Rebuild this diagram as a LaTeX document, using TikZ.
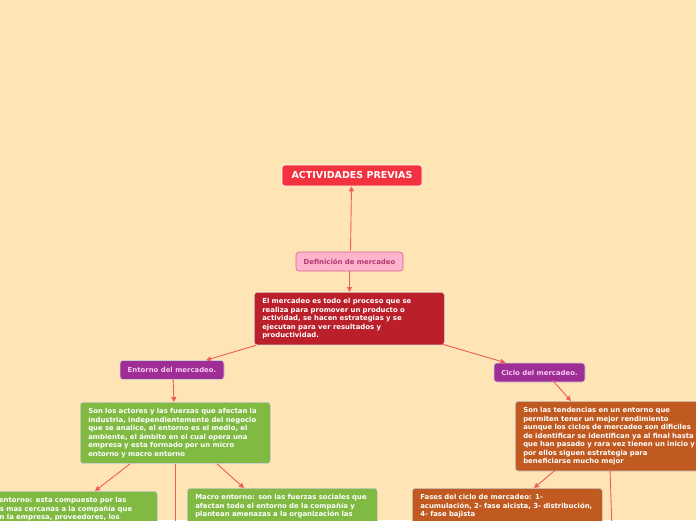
\documentclass[tikz,border=0pt]{standalone}
\usepackage{fontspec}
\setmainfont{DejaVu Sans}
\usetikzlibrary{arrows.meta}
\definecolor{bgc}{RGB}{255,229,182}
\definecolor{linec}{RGB}{240,92,92}
\definecolor{actred}{RGB}{242,50,62}
\definecolor{pinkf}{RGB}{255,180,205}
\definecolor{pinkd}{RGB}{214,96,150}
\definecolor{pinkt}{RGB}{176,58,110}
\definecolor{mainred}{RGB}{186,31,42}
\definecolor{purp}{RGB}{158,46,150}
\definecolor{purpt}{RGB}{248,200,240}
\definecolor{grn}{RGB}{128,186,66}
\definecolor{orng}{RGB}{192,90,32}
\tikzset{
  box/.style={rounded corners=3pt, draw=white!80!black, line width=0.6pt, font=\bfseries\fontsize{6.9}{8.5}\selectfont, text=white, align=left, anchor=north west, inner xsep=8pt, inner ysep=6pt},
  textbox/.style={box, text width=174pt},
  conn/.style={draw=linec, line width=0.9pt, -{Triangle[length=5pt,width=5pt]}},
  plain/.style={draw=linec, line width=0.9pt},
}
\begin{document}
\begin{tikzpicture}[x=1pt,y=-1pt]
\useasboundingbox (0,0) rectangle (696,520);
\clip (0,0) rectangle (696,520);
\fill[bgc] (0,0) rectangle (696,520);

\node[box, fill=actred, draw=white, font=\bfseries\fontsize{9.5}{11}\selectfont, anchor=center, minimum width=140pt, minimum height=21pt, inner sep=2pt] (act) at (352,175.5) {ACTIVIDADES PREVIAS};
\node[box, fill=pinkf, draw=pinkd, text=pinkt, anchor=center, minimum width=107pt, minimum height=19pt, inner sep=2pt] (def) at (349.5,261.5) {Definición de mercadeo};
\node[textbox, fill=mainred] (main) at (254,292) {El mercadeo es todo el proceso que se\\realiza para promover un producto o\\actividad, se hacen estrategias y se\\ejecutan para ver resultados y\\productividad.};
\node[box, fill=purp, text=purpt, anchor=center, minimum width=104pt, minimum height=19pt, inner sep=2pt] (ent) at (172,370) {Entorno del mercadeo.};
\node[box, fill=purp, text=purpt, anchor=center, minimum width=91pt, minimum height=19pt, inner sep=2pt] (cic) at (539.5,372.5) {Ciclo del mercadeo.};
\node[textbox, fill=grn] (green) at (80,402) {Son los actores y las fuerzas que afectan la\\industria, independientemente del negocio\\que se analice, el entorno es el medio, el\\ambiente, el ámbito en el cual opera una\\empresa y esta formado por un micro\\entorno y macro entorno};
\node[box, fill=orng, text width=186pt] (orange) at (515,401) {Son las tendencias en un entorno que\\permiten tener un mejor rendimiento\\aunque los ciclos de mercadeo son dificiles\\de identificar se identifican ya al final hasta\\que han pasado y rara vez tienen un inicio y\\por ellos siguen estrategia para\\beneficiarse mucho mejor};
\node[textbox, fill=grn] (micro) at (-33,491) {Micro entorno: esta compuesto por las\\fuerzas mas cercanas a la compañía que\\afectan la empresa, proveedores, los};
\node[textbox, fill=grn] (macro) at (187,488) {Macro entorno: son las fuerzas sociales que\\afectan todo el entorno de la compañía y\\plantean amenazas a la organización las};
\node[textbox, fill=orng] (fases) at (412,488) {Fases del ciclo de mercadeo: 1-\\acumulación, 2- fase alcista, 3- distribución,\\4- fase bajista\\[6pt]};

\coordinate (gdown) at (175,530);
\coordinate (odown) at (612,530);

\draw[conn] (def.north) ++(1,-1) -- ([xshift=-0.5pt]act.south);
\draw[conn] (def.south) -- (main.north -| def.south);
\draw[conn] ([xshift=2pt]main.south west) -- ([xshift=34pt]ent.north);
\draw[conn] ([xshift=-2pt,yshift=1pt]main.south east) -- ([xshift=-34pt]cic.north);
\draw[conn] ([xshift=1pt,yshift=2pt]ent.south) -- (green.north -| 174,0);
\draw[conn] ([xshift=13pt,yshift=2pt]cic.south) -- (orange.north -| 571,0);
\draw[conn] (green.south -| 130,0) -- (micro.north -| 95,0);
\draw[plain] (green.south -| 175,0) -- (gdown);
\draw[conn] (green.south -| 217,0) -- (macro.north -| 244,0);
\draw[conn] ([yshift=1pt]orange.south -| 555,0) -- (fases.north -| 534,0);
\draw[plain] ([yshift=3pt]orange.south -| 610,0) -- (odown);
\end{tikzpicture}
\end{document}
